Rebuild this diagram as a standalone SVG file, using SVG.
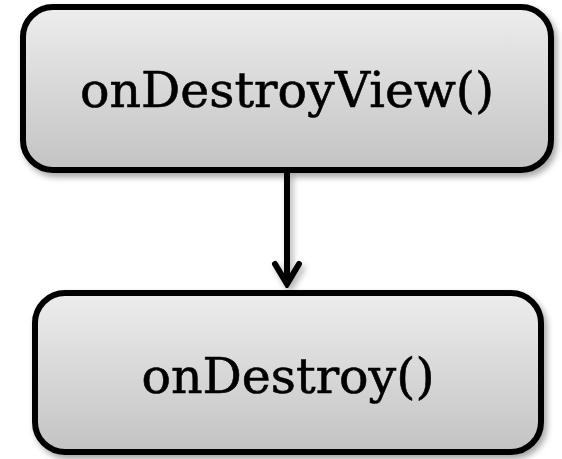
<svg xmlns="http://www.w3.org/2000/svg" width="562" height="459" viewBox="0 0 562 459">
  <defs>
    <linearGradient id="boxGrad" x1="0" y1="0" x2="0" y2="1">
      <stop offset="0" stop-color="#ededed"/>
      <stop offset="1" stop-color="#c3c3c3"/>
    </linearGradient>
    <filter id="shadow" x="-10%" y="-10%" width="125%" height="130%">
      <feDropShadow dx="3" dy="4" stdDeviation="3" flood-color="#000" flood-opacity="0.35"/>
    </filter>
    <filter id="connShadow" filterUnits="userSpaceOnUse" x="0" y="0" width="562" height="459">
      <feDropShadow dx="3" dy="4" stdDeviation="3" flood-color="#000" flood-opacity="0.3"/>
    </filter>
    <marker id="arrow" markerUnits="userSpaceOnUse" viewBox="-26 -16 30 32" markerWidth="30" markerHeight="32" refX="0" refY="0" orient="auto">
      <path d="M -20 -12 L 0 0 L -20 12" fill="none" stroke="#000" stroke-width="6" stroke-linecap="round" stroke-linejoin="miter"/>
    </marker>
    <style>
      .box { fill: url(#boxGrad); stroke: #000; stroke-width: 6; filter: url(#shadow); }
      .label { font-family: "DejaVu Serif", "Liberation Serif", serif; font-size: 49px; fill: #000; stroke: #000; stroke-width: 0.6; text-anchor: middle; }
      .conn { fill: none; stroke: #000; stroke-width: 6; }
    </style>
  </defs>
  <g id="connectors" filter="url(#connShadow)">
    <path class="conn" d="M 287 172 L 287 284" marker-end="url(#arrow)"/>
  </g>
  <g id="node-onDestroyView">
    <rect class="box" x="23" y="7" width="528" height="163" rx="30" ry="30"/>
    <text class="label" x="287" y="107">onDestroyView()</text>
  </g>
  <g id="node-onDestroy">
    <rect class="box" x="35" y="293" width="506" height="159" rx="30" ry="30"/>
    <text class="label" x="288" y="393">onDestroy()</text>
  </g>
</svg>
